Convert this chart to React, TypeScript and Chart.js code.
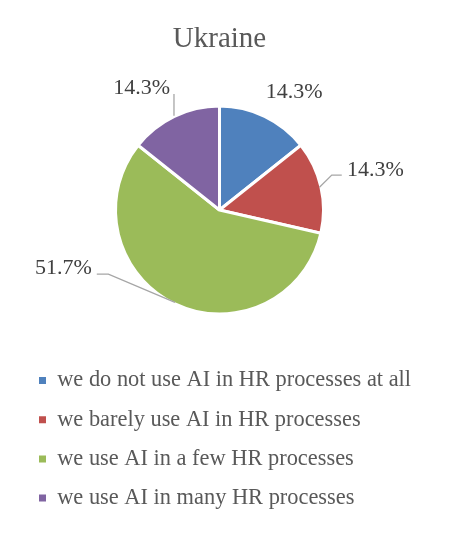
import React, { useEffect, useRef } from "react";
import { Chart, registerables } from "chart.js";

Chart.register(...registerables);

const chartTitle = "Ukraine";
const categories = [
  "we do not use AI in HR processes at all",
  "we barely use AI in HR processes",
  "we use AI in a few HR processes",
  "we use AI in many HR processes",
];
const shares = [14.3, 14.3, 57.1, 14.3];
const shareLabels = ["14.3%", "14.3%", "51.7%", "14.3%"];
const sliceColors = ["#4F81BD", "#C0504D", "#9BBB59", "#8064A2"];

const SERIF = '"Liberation Serif", "Times New Roman", serif';
const BORDER = 3;

// label placement relative to the outer-edge midpoint of each slice
type Callout = { text: [number, number]; align: CanvasTextAlign; line: [number, number][] | null };
const callouts: Callout[] = [
  { text: [1.7, -19.4], align: "left", line: null },
  { text: [27.6, -11.3], align: "left", line: [[0, 0], [12.3, -12.3], [22.3, -12.3]] },
  { text: [-83.2, -28.3], align: "right", line: [[0, 0], [-66.6, -28.3], [-78.2, -28.3]] },
  { text: [-5, -23.6], align: "right", line: [[-1, -2], [-1, -23.6]] },
];

const calloutPlugin = {
  id: "callouts",
  afterDatasetsDraw(chart: any) {
    const meta = chart.getDatasetMeta(0);
    const ctx: CanvasRenderingContext2D = chart.ctx;
    ctx.save();
    meta.data.forEach((arc: any, i: number) => {
      const p = arc.getProps(["x", "y", "startAngle", "endAngle", "outerRadius"], true);
      const mid = (p.startAngle + p.endAngle) / 2;
      const r = p.outerRadius - BORDER / 2;
      const ax = p.x + Math.cos(mid) * r;
      const ay = p.y + Math.sin(mid) * r;
      const c = callouts[i];
      if (c.line) {
        ctx.beginPath();
        ctx.strokeStyle = "#A6A6A6";
        ctx.lineWidth = 1.3;
        c.line.forEach(([dx, dy], k) => {
          if (k === 0) ctx.moveTo(ax + dx, ay + dy);
          else ctx.lineTo(ax + dx, ay + dy);
        });
        ctx.stroke();
      }
      ctx.font = `22px ${SERIF}`;
      ctx.fillStyle = "#404040";
      ctx.textAlign = c.align;
      ctx.textBaseline = "alphabetic";
      ctx.fillText(shareLabels[i], ax + c.text[0], ay + c.text[1]);
    });
    ctx.restore();
  },
};

export default function App() {
  const canvasRef = useRef<HTMLCanvasElement | null>(null);

  useEffect(() => {
    document.body.style.margin = "0";
    const canvas = canvasRef.current;
    if (!canvas) return;
    const chart = new Chart(canvas, {
      type: "pie",
      data: {
        labels: categories,
        datasets: [
          {
            data: shares,
            backgroundColor: sliceColors,
            borderColor: "#FFFFFF",
            borderWidth: BORDER,
            radius: 104,
          } as any,
        ],
      },
      options: {
        responsive: false,
        animation: false,
        layout: { padding: { left: 22.2, right: 43.2, top: 0, bottom: 13.7 } },
        plugins: {
          title: {
            display: true,
            text: chartTitle,
            color: "#595959",
            font: { family: SERIF, size: 29, weight: "normal" },
            padding: { top: 22, bottom: 10.7 },
          },
          legend: {
            display: true,
            position: "bottom",
            align: "start",
            labels: {
              color: "#595959",
              font: { family: SERIF, size: 22.4 },
              boxWidth: 7,
              boxHeight: 7,
              padding: 16.8,
              generateLabels: (ch: any) => {
                const items = (Chart as any).overrides.pie.plugins.legend.labels.generateLabels(ch);
                items.forEach((it: any) => {
                  it.lineWidth = 0;
                  it.strokeStyle = it.fillStyle;
                });
                return items;
              },
            },
          },
          tooltip: { enabled: false },
        },
      },
      plugins: [calloutPlugin],
    });
    return () => chart.destroy();
  }, []);

  return (
    <div style={{ width: 460, height: 533, background: "#FFFFFF" }}>
      <canvas ref={canvasRef} width={460} height={533} />
    </div>
  );
}
